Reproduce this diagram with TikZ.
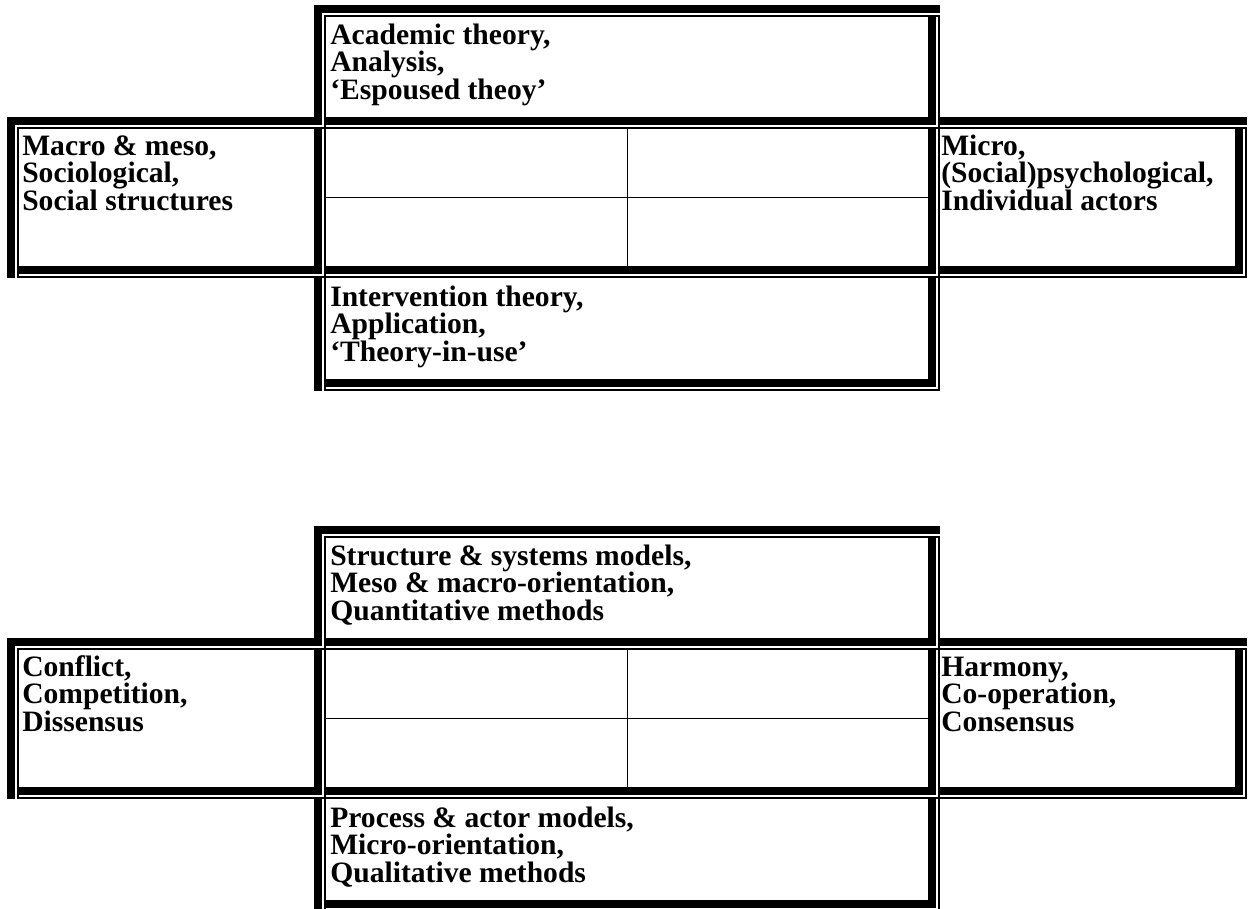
\documentclass[tikz,border=0pt]{standalone}
\usepackage{fontspec}
\setmainfont{Liberation Serif}
\newcommand\trilines[3]{\vtop{\baselineskip=20.8pt\lineskiplimit=-10pt\hbox{#1}\hbox{#2}\hbox{#3}}}
\tikzset{
  celltext/.style={anchor=base west,inner sep=0pt,font=\bfseries\fontsize{22.2}{21}\selectfont},
  gridline/.style={line width=0.75pt}
}
\begin{document}
\begin{tikzpicture}[x=0.75pt,y=-0.75pt]
\useasboundingbox (0,0) rectangle (1248,908);
\clip (0,0) rectangle (1248,908);
\foreach \o in {0,521}{
  % thick bands
  \foreach \Y/\Xa/\Xb in {5/314/940,117/7/1247,266/7/1247,379/314/940}
    \fill (\Xa,\Y+\o) rectangle (\Xb,\Y+8+\o);
  \foreach \X/\Ya/\Yb in {7/117/277.5,314/5/390.5,928/5/390.5,1235/117/277.5}
    \fill (\X,\Ya+\o) rectangle (\X+8,\Yb+\o);
  % white gaps
  \foreach \Y/\Xa/\Xb in {5/314/940,117/7/1247,266/7/1247,379/314/940}
    \fill[white] (\Xa+8,\Y+8+\o) rectangle (\Xb,\Y+9.5+\o);
  \foreach \X/\Ya/\Yb in {7/117/277.5,314/5/390.5,928/5/390.5,1235/117/277.5}
    \fill[white] (\X+8,\Ya+8+\o) rectangle (\X+9.5,\Yb+\o);
  % thin lines
  \foreach \Y/\Xa/\Xb in {5/314/940,117/7/1247,266/7/1247,379/314/940}
    \fill (\Xa+9.5,\Y+9.5+\o) rectangle (\Xb,\Y+11.5+\o);
  \foreach \X/\Ya/\Yb in {7/117/277.5,314/5/390.5,928/5/390.5,1235/117/277.5}
    \fill (\X+9.5,\Ya+9.5+\o) rectangle (\X+11.5,\Yb+\o);
}
% inner grid lines
\coordinate (gv1a) at (627,128.5); \coordinate (gv1b) at (627,266);
\coordinate (gh1a) at (325.5,197); \coordinate (gh1b) at (928,197);
\coordinate (gv2a) at (627,649.5); \coordinate (gv2b) at (627,787);
\coordinate (gh2a) at (325.5,718); \coordinate (gh2b) at (928,718);
\draw[gridline] (gv1a) -- (gv1b);
\draw[gridline] (gh1a) -- (gh1b);
\draw[gridline] (gv2a) -- (gv2b);
\draw[gridline] (gh2a) -- (gh2b);
% texts, top diagram
\node[celltext] (t1) at (330,44) {\trilines{Academic theory,}{Analysis,}{‘Espoused theoy’}};
\node[celltext] (l1) at (22,155) {\trilines{Macro \& meso,}{Sociological,}{Social structures}};
\node[celltext] (r1) at (941,155) {\trilines{Micro,}{(Social)psychological,}{Individual actors}};
\node[celltext] (b1) at (330,306) {\trilines{Intervention theory,}{Application,}{‘Theory-in-use’}};
% texts, bottom diagram
\node[celltext] (t2) at (330,565) {\trilines{Structure \& systems models,}{Meso \& macro-orientation,}{Quantitative methods}};
\node[celltext] (l2) at (22,676) {\trilines{Conflict,}{Competition,}{Dissensus}};
\node[celltext] (r2) at (941,676) {\trilines{Harmony,}{Co-operation,}{Consensus}};
\node[celltext] (b2) at (330,827) {\trilines{Process \& actor models,}{Micro-orientation,}{Qualitative methods}};
\end{tikzpicture}
\end{document}
